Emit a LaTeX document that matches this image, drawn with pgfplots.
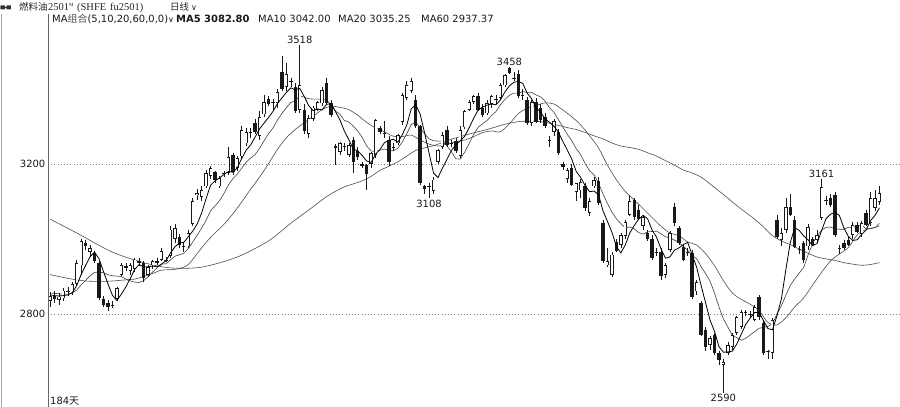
\documentclass[border=0pt]{standalone}
\usepackage{fontspec}
\setmainfont{DejaVu Sans}
\newfontfamily\cjk{Noto Sans CJK SC}
\newfontfamily\lserif{Liberation Serif}
\usepackage{pgfplots}
\pgfplotsset{compat=1.18}
\usepackage{pgfplotstable}

% daily bars: day, open, high, low, close
\pgfplotstableread{
d o h l c
0 2835 2858 2818 2848
1 2848 2862 2830 2840
2 2838 2855 2825 2846
3 2842 2870 2835 2862
4 2862 2872 2848 2858
5 2858 2885 2850 2880
6 2880 2945 2875 2935
7 2930 3000 2905 2995
8 2990 2998 2970 2980
9 2965 2985 2955 2975
10 2962 2968 2935 2940
11 2935 2940 2838 2843
12 2840 2848 2818 2825
13 2828 2838 2808 2818
14 2822 2835 2815 2824
15 2840 2872 2835 2868
16 2905 2935 2900 2930
17 2928 2935 2915 2922
18 2915 2935 2905 2930
19 2920 2950 2912 2945
20 2940 2948 2928 2935
21 2935 2940 2885 2895
22 2905 2930 2898 2925
23 2930 2945 2920 2940
24 2942 2950 2930 2935
25 2945 2975 2940 2968
26 2945 2952 2938 2940
27 2955 3035 2950 3025
28 3000 3040 2990 3028
29 3005 3012 2975 2985
30 2982 2990 2965 2978
31 2980 3025 2975 3015
32 3040 3108 3035 3100
33 3118 3132 3105 3122
34 3112 3140 3100 3130
35 3140 3185 3135 3175
36 3168 3195 3160 3188
37 3178 3182 3150 3158
38 3140 3168 3135 3162
39 3172 3180 3165 3175
40 3176 3245 3170 3218
41 3224 3230 3170 3178
42 3190 3220 3180 3215
43 3220 3300 3212 3290
44 3255 3295 3248 3285
45 3283 3295 3270 3286
46 3308 3320 3280 3285
47 3275 3340 3265 3325
48 3332 3385 3325 3365
49 3372 3380 3355 3360
50 3362 3372 3345 3365
51 3363 3400 3350 3392
52 3445 3488 3395 3400
53 3405 3470 3395 3440
54 3418 3430 3405 3420
55 3405 3415 3335 3340
56 3345 3518 3335 3410
57 3344 3360 3280 3288
58 3280 3330 3270 3322
59 3320 3355 3315 3350
60 3345 3368 3340 3365
61 3362 3405 3355 3397
62 3415 3430 3360 3363
63 3362 3370 3325 3331
64 3248 3252 3197 3243
65 3232 3258 3225 3255
66 3245 3255 3235 3247
67 3225 3255 3218 3250
68 3264 3272 3175 3205
69 3235 3245 3210 3218
70 3200 3205 3190 3195
71 3197 3200 3131 3172
72 3200 3232 3190 3228
73 3224 3320 3215 3317
74 3296 3300 3280 3285
75 3283 3315 3270 3282
76 3264 3275 3195 3205
77 3245 3255 3235 3243
78 3255 3280 3250 3277
79 3312 3390 3305 3384
80 3376 3420 3370 3411
81 3395 3430 3390 3420
82 3371 3385 3295 3300
83 3300 3305 3145 3150
84 3140 3145 3120 3133
85 3142 3150 3108 3140
86 3128 3165 3120 3158
87 3205 3240 3200 3237
88 3245 3285 3240 3277
89 3290 3300 3245 3250
90 3255 3265 3245 3257
91 3262 3270 3230 3235
92 3222 3300 3215 3290
93 3298 3345 3292 3340
94 3345 3370 3340 3365
95 3365 3385 3360 3380
96 3380 3388 3340 3345
97 3350 3360 3325 3331
98 3335 3370 3330 3363
99 3360 3385 3350 3380
100 3372 3385 3360 3370
101 3376 3415 3370 3410
102 3410 3440 3405 3437
103 3455 3458 3440 3443
104 3428 3445 3420 3430
105 3440 3450 3375 3380
106 3385 3400 3370 3384
107 3370 3378 3305 3310
108 3310 3370 3300 3365
109 3365 3375 3310 3312
110 3350 3360 3310 3318
111 3325 3335 3295 3300
112 3265 3275 3245 3262
113 3285 3320 3275 3315
114 3285 3292 3225 3230
115 3200 3205 3185 3192
116 3160 3190 3150 3184
117 3190 3200 3140 3145
118 3125 3150 3100 3148
119 3130 3160 3110 3152
120 3140 3150 3075 3083
121 3070 3110 3060 3100
122 3140 3165 3135 3157
123 3155 3165 3090 3097
124 3043 3050 2935 2940
125 2930 2975 2925 2940
126 2905 2965 2898 2958
127 2993 3000 2965 2967
128 2985 3015 2975 3010
129 3008 3050 3000 3045
130 3065 3115 3060 3100
131 3104 3110 3050 3058
132 3078 3090 3050 3052
133 3035 3065 3025 3058
134 3015 3025 2995 3000
135 3000 3010 2945 2950
136 2965 2975 2955 2963
137 2965 2975 2890 2900
138 2905 2935 2895 2930
139 2971 3020 2965 3016
140 3085 3095 3035 3043
141 3030 3035 2985 2990
142 2979 2985 2940 2944
143 2965 2975 2955 2963
144 2963 2970 2840 2845
145 2860 2890 2850 2885
146 2830 2835 2740 2744
147 2757 2765 2700 2712
148 2717 2740 2705 2735
149 2744 2750 2690 2696
150 2696 2700 2665 2677
151 2664 2680 2590 2672
152 2696 2725 2690 2717
153 2712 2750 2705 2744
154 2750 2795 2745 2792
155 2765 2810 2760 2805
156 2802 2810 2795 2804
157 2800 2808 2790 2798
158 2784 2825 2780 2819
159 2845 2850 2785 2792
160 2776 2782 2690 2696
161 2700 2705 2680 2698
162 2696 2790 2680 2784
163 3051 3065 3000 3005
164 2997 3030 2980 3016
165 3024 3110 3015 3085
166 3085 3120 3060 3064
167 3051 3060 2975 2979
168 2972 2980 2960 2970
169 2990 2995 2935 2944
170 2980 3040 2970 3032
171 3000 3005 2980 2985
172 2997 3025 2990 3011
173 3056 3161 3050 3139
174 3104 3115 3090 3102
175 3109 3120 3085 3091
176 3117 3125 3005 3011
177 2975 2985 2960 2972
178 2990 2998 2970 2976
179 2997 3005 2980 2984
180 3011 3045 3000 3037
181 3037 3045 3015 3019
182 3014 3048 3005 3043
183 3070 3078 3035 3037
184 3043 3125 3035 3109
185 3083 3130 3075 3109
186 3099 3140 3090 3123
}\candles

% moving averages
\pgfplotstableread{
d v
0 2851
1 2849
2 2848
3 2849
4 2851
5 2857
6 2876
7 2906
8 2930
9 2953
10 2965
11 2947
12 2913
13 2880
14 2850
15 2836
16 2853
17 2872
18 2895
19 2919
20 2932
21 2925
22 2926
23 2928
24 2926
25 2933
26 2942
27 2962
28 2979
29 2989
30 2991
31 3006
32 3021
33 3040
34 3069
35 3108
36 3143
37 3155
38 3163
39 3172
40 3180
41 3178
42 3190
43 3215
44 3237
45 3251
46 3272
47 3294
48 3309
49 3324
50 3340
51 3361
52 3376
53 3391
54 3403
55 3398
56 3402
57 3380
58 3356
59 3342
60 3347
61 3344
62 3359
63 3361
64 3340
65 3318
66 3288
67 3265
68 3240
69 3235
70 3223
71 3208
72 3204
73 3226
74 3239
75 3257
76 3263
77 3266
78 3258
79 3278
80 3304
81 3347
82 3358
83 3333
84 3283
85 3229
86 3176
87 3164
88 3189
89 3212
90 3236
91 3251
92 3262
93 3274
94 3297
95 3322
96 3344
97 3352
98 3357
99 3360
100 3358
101 3371
102 3392
103 3408
104 3418
105 3420
106 3415
107 3389
108 3374
109 3350
110 3338
111 3321
112 3311
113 3301
114 3285
115 3260
116 3237
117 3213
118 3180
119 3164
120 3142
121 3126
122 3128
123 3118
124 3075
125 3047
126 3018
127 2980
128 2963
129 2984
130 3016
131 3036
132 3053
133 3063
134 3054
135 3024
136 3005
137 2974
138 2949
139 2952
140 2970
141 2976
142 2985
143 2991
144 2957
145 2925
146 2876
147 2830
148 2784
149 2754
150 2713
151 2698
152 2699
153 2701
154 2720
155 2746
156 2772
157 2789
158 2804
159 2804
160 2782
161 2761
162 2758
163 2795
164 2840
165 2918
166 2991
167 3030
168 3023
169 3008
170 2998
171 2982
172 2988
173 3022
174 3054
175 3066
176 3071
177 3063
178 3030
179 3007
180 2996
181 2998
182 3012
183 3024
184 3049
185 3063
186 3083
}\mafive

\pgfplotstableread{
d v
0 2856
1 2855
2 2854
3 2853
4 2853
5 2856
6 2864
7 2878
8 2890
9 2902
10 2911
11 2912
12 2910
13 2905
14 2902
15 2901
16 2900
17 2893
18 2888
19 2885
20 2884
21 2889
22 2899
23 2912
24 2923
25 2933
26 2934
27 2944
28 2954
29 2958
30 2962
31 2974
32 2992
33 3010
34 3029
35 3050
36 3075
37 3088
38 3102
39 3121
40 3144
41 3161
42 3173
43 3189
44 3205
45 3216
46 3225
47 3242
48 3262
49 3281
50 3296
51 3317
52 3335
53 3350
54 3364
55 3369
56 3382
57 3378
58 3374
59 3373
60 3373
61 3373
62 3370
63 3359
64 3341
65 3333
66 3316
67 3312
68 3301
69 3288
70 3271
71 3248
72 3235
73 3233
74 3237
75 3240
76 3236
77 3235
78 3242
79 3259
80 3281
81 3305
82 3312
83 3296
84 3281
85 3267
86 3262
87 3261
88 3261
89 3248
90 3233
91 3214
92 3213
93 3232
94 3255
95 3279
96 3298
97 3307
98 3316
99 3329
100 3340
101 3358
102 3372
103 3383
104 3389
105 3389
106 3393
107 3391
108 3391
109 3384
110 3379
111 3368
112 3350
113 3338
114 3318
115 3299
116 3279
117 3262
118 3241
119 3225
120 3201
121 3182
122 3171
123 3149
124 3120
125 3095
126 3072
127 3054
128 3041
129 3030
130 3032
131 3027
132 3017
133 3013
134 3019
135 3020
136 3021
137 3014
138 3006
139 3003
140 2997
141 2991
142 2980
143 2970
144 2955
145 2948
146 2926
147 2908
148 2888
149 2856
150 2819
151 2787
152 2765
153 2743
154 2737
155 2730
156 2735
157 2744
158 2753
159 2762
160 2764
161 2767
162 2774
163 2800
164 2822
165 2850
166 2876
167 2894
168 2909
169 2924
170 2958
171 2987
172 3009
173 3023
174 3031
175 3032
176 3027
177 3026
178 3026
179 3031
180 3031
181 3035
182 3038
183 3027
184 3028
185 3030
186 3042
}\maten

\pgfplotstableread{
d v
0 2905
2 2900
4 2895
6 2891
8 2888
10 2887
12 2887
14 2888
16 2890
18 2892
19 2893
21 2900
23 2908
25 2917
27 2918
29 2921
31 2932
33 2961
35 2991
37 3016
39 3039
41 3067
43 3099
45 3133
47 3165
49 3201
51 3239
53 3270
55 3292
57 3310
59 3327
61 3345
63 3354
65 3351
67 3345
69 3330
71 3311
73 3296
75 3286
77 3274
79 3273
81 3277
83 3264
85 3253
87 3248
89 3253
91 3259
93 3264
95 3273
97 3284
99 3288
101 3286
103 3307
105 3334
107 3349
109 3356
111 3363
113 3360
115 3344
117 3326
119 3304
121 3275
123 3243
125 3197
127 3158
129 3127
131 3104
133 3081
135 3057
137 3034
139 3016
141 3009
143 2992
145 2984
147 2961
149 2929
151 2889
153 2856
155 2839
157 2826
159 2809
161 2777
163 2771
165 2790
167 2819
169 2843
171 2877
173 2911
175 2941
177 2960
179 2977
181 3011
183 3025
185 3031
186 3035
}\matwenty

\pgfplotstableread{
d v
0 3053
6 3016
14 2965
21 2937
27 2923
34 2925
42 2952
49 2995
54 3042
59 3086
62 3113
64 3127
66 3139
68 3147
70 3155
72 3167
74 3183
76 3194
78 3206
80 3221
82 3236
84 3243
86 3249
88 3257
90 3266
92 3273
94 3280
96 3286
98 3292
100 3299
102 3306
104 3311
106 3314
108 3314
110 3313
112 3309
114 3303
116 3297
118 3292
120 3284
122 3275
124 3267
126 3256
128 3248
130 3244
132 3239
134 3230
136 3221
138 3209
140 3197
142 3184
144 3176
146 3165
148 3147
150 3128
152 3109
154 3089
156 3071
158 3053
160 3032
162 3009
164 2995
166 2985
168 2973
170 2962
172 2952
174 2947
176 2943
178 2937
180 2933
182 2930
184 2932
186 2937
}\masixty

\begin{document}
\begin{tikzpicture}
\begin{axis}[
  name=ax, at={(0,0)}, anchor=south west,
  scale only axis, width=852bp, height=393bp,
  xmin=-0.45, xmax=190.6, ymin=2552, ymax=3600,
  axis line style={draw=none},
  xtick=\empty, ytick={2800,3200},
  major tick length=0pt,
  ymajorgrids,
  grid style={draw=black!50, dash pattern=on 1bp off 2.2bp, line width=0.6bp},
  yticklabel style={font=\fontsize{10}{11}\selectfont, inner sep=0pt, xshift=-2.5bp, text=black!90},
  /pgf/number format/1000 sep={},
  /pgf/number format/assume math mode=true,
  clip=true,
  candle/.style={draw=none, no markers,
    error bars/y dir=minus, error bars/y explicit, error bars/error mark=none},
]
% moving averages
\addplot[black!70, line width=0.6bp, smooth] table[x=d, y=v] {\masixty};
\addplot[black!70, line width=0.6bp, smooth] table[x=d, y=v] {\matwenty};
\addplot[black!75, line width=0.6bp] table[x=d, y=v] {\maten};

% wicks
\addplot[candle, error bars/error bar style={line width=0.6bp, draw=black!90}]
  table[x=d, y=h, y error expr={\thisrow{h}-\thisrow{l}}] {\candles};
% bodies (outline / filled)
\addplot[candle, error bars/error bar style={line width=3.4bp, draw=black!90, line cap=butt}]
  table[x=d, y expr={max(\thisrow{o},\thisrow{c})},
        y error expr={max(abs(\thisrow{o}-\thisrow{c}),2)}] {\candles};
% hollow interior of rising bars
\addplot[candle, error bars/error bar style={line width=2.0bp, draw=white, line cap=butt}]
  table[x=d, y expr={\thisrow{c}>\thisrow{o} ? \thisrow{c}-1.9 : 9000},
        y error expr={\thisrow{c}>\thisrow{o} ? max(\thisrow{c}-\thisrow{o}-3.8,0) : 0}] {\candles};

\addplot[black, line width=0.8bp] table[x=d, y=v] {\mafive};

% extreme values
\begin{scope}[every node/.style={font=\fontsize{10}{11}\selectfont, text=black!90, inner sep=1.2bp}]
\node[anchor=south] at (axis cs:56,3518) {3518};
\node[anchor=south] at (axis cs:103,3458) {3458};
\node[anchor=north] at (axis cs:85,3108) {3108};
\node[anchor=south] at (axis cs:173,3161) {3161};
\node[anchor=north] at (axis cs:151,2590) {2590};
\end{scope}
\end{axis}

% frame lines
\draw[black!60, line width=0.8bp] (ax.south west) -- (ax.north west);
\draw[black!35, line width=0.7bp] ([xshift=-47bp]ax.south west) -- ([xshift=-47bp]ax.north west);

% header row 1
\fill[black!80, rounded corners=0.5bp] ([xshift=-47.5bp,yshift=4.5bp]ax.north west) rectangle ++(4.5bp,4bp);
\fill[black!80, rounded corners=0.5bp] ([xshift=-41.5bp,yshift=4.5bp]ax.north west) rectangle ++(4.5bp,4bp);
\draw[black!80, line width=0.8bp] ([xshift=-43.5bp,yshift=6.5bp]ax.north west) -- ++(2.5bp,0);
\begin{scope}[every node/.style={anchor=base west, inner sep=0pt, text=black!85}]
\node[font=\cjk\fontsize{9.5}{11}\selectfont] at ([xshift=-29bp,yshift=3.5bp]ax.north west) {燃料油};
\node[font=\lserif\fontsize{10.5}{11}\selectfont] at ([xshift=0bp,yshift=3.5bp]ax.north west) {2501\raisebox{3.5bp}{\fontsize{5}{5}\selectfont M}};
\node[font=\lserif\fontsize{10.5}{11}\selectfont] at ([xshift=29bp,yshift=3.5bp]ax.north west) {(SHFE};
\node[font=\lserif\fontsize{10.5}{11}\selectfont] at ([xshift=62bp,yshift=3.5bp]ax.north west) {fu2501)};
\node[font=\cjk\fontsize{9.5}{11}\selectfont] at ([xshift=122bp,yshift=3.5bp]ax.north west) {日线};
\node[font=\fontsize{8}{8}\selectfont] at ([xshift=143bp,yshift=3.5bp]ax.north west) {∨};
\end{scope}

% header row 2
\begin{scope}[every node/.style={anchor=base west, inner sep=0pt, font=\fontsize{10}{11}\selectfont, text=black!90}]
\node at ([xshift=4bp,yshift=-8.5bp]ax.north west) {MA{\cjk\color{black!70}组合}(5,10,20,60,0,0){\fontsize{8}{8}\selectfont ∨}};
\node at ([xshift=128bp,yshift=-8.5bp]ax.north west) {\bfseries MA5 3082.80};
\node at ([xshift=210bp,yshift=-8.5bp]ax.north west) {MA10 3042.00};
\node at ([xshift=290bp,yshift=-8.5bp]ax.north west) {MA20 3035.25};
\node at ([xshift=373bp,yshift=-8.5bp]ax.north west) {MA60 2937.37};
\end{scope}

% day count
\node[anchor=base west, inner sep=0pt, font=\fontsize{10}{11}\selectfont, text=black!90]
  at ([xshift=2bp,yshift=3bp]ax.south west) {184{\cjk 天}};

\pgfresetboundingbox
\path[use as bounding box] ([xshift=-48bp]ax.south west) rectangle ([yshift=14bp]ax.north east);
\end{tikzpicture}
\end{document}
